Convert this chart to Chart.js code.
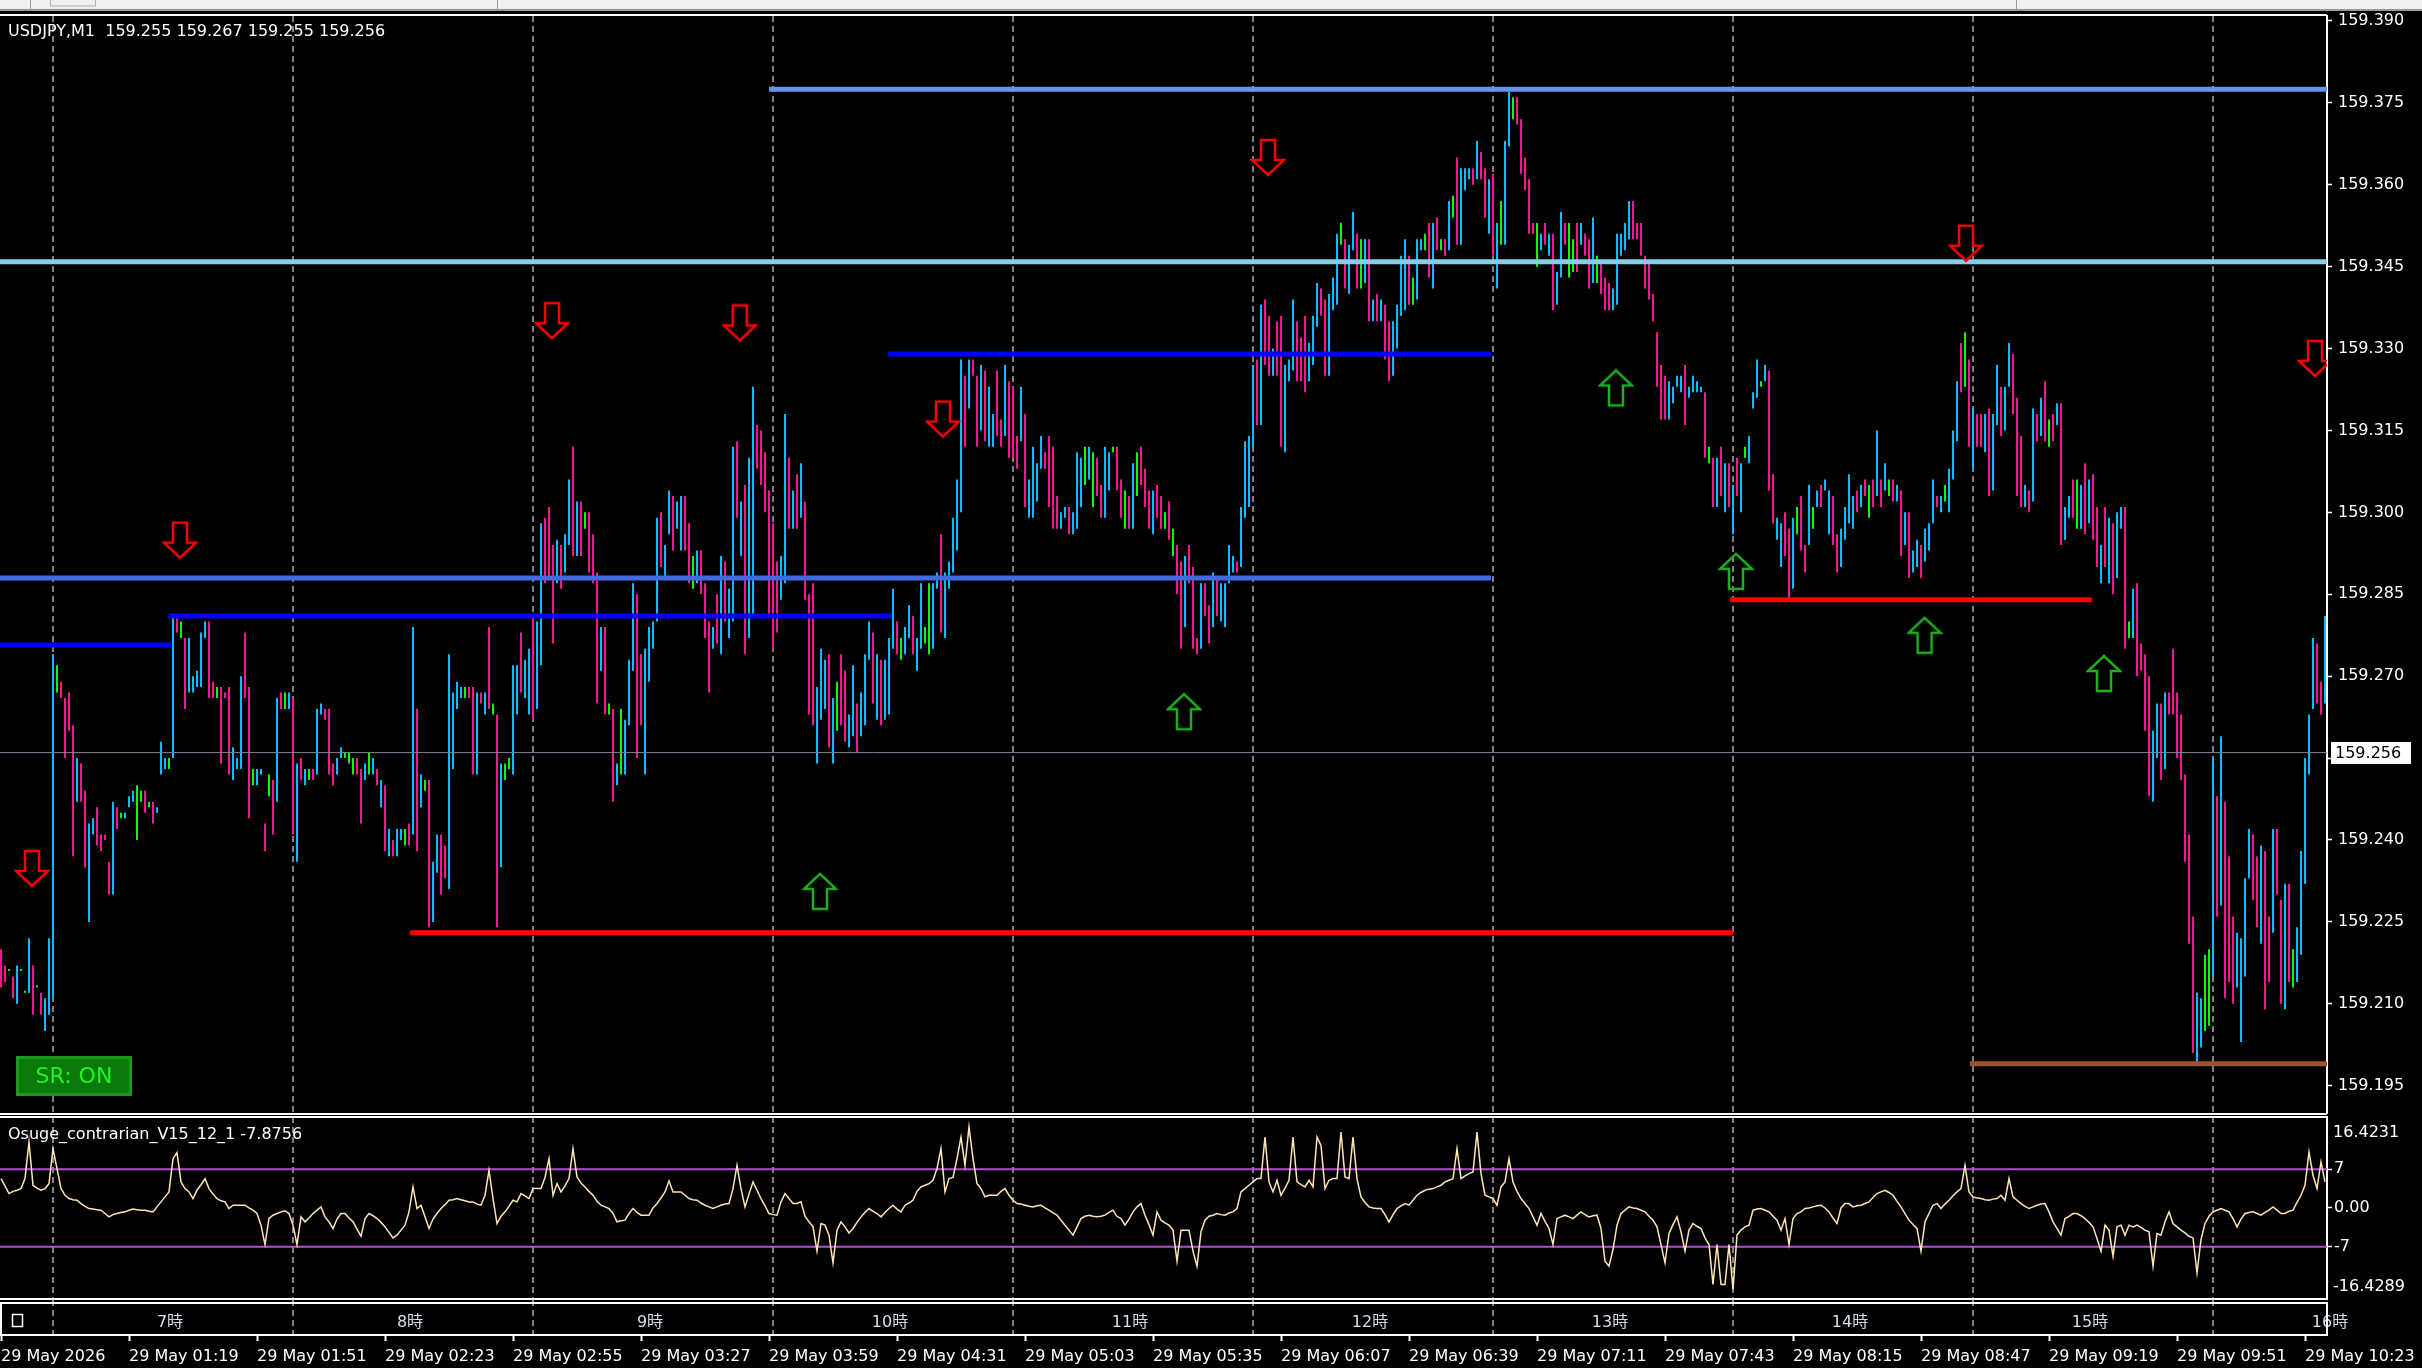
<!DOCTYPE html>
<html>
<head>
<meta charset="utf-8">
<title>USDJPY,M1</title>
<style>
    html, body { margin: 0; padding: 0; background: #000; }
    .wrap { position: relative; width: 2422px; height: 1368px; background: #000; overflow: hidden; }
    #mainChart { position: absolute; left: 0; top: 0; }
    #oscChart { position: absolute; left: 0; top: 1116px; }
</style>
<script src="https://cdn.jsdelivr.net/npm/chart.js"></script>
</head>
<body>
<div class="wrap">
    <canvas id="mainChart" width="2422" height="1116"></canvas>
    <canvas id="oscChart" width="2422" height="252"></canvas>
</div>
<script>
// one bar per minute, first bar = 29 May 00:47
// prices are in points (0.001) above 159.000
const PRICE_BASE = 159;

const barHigh = [
    220,217,216,215,217,216,212,222,217,213, 212,211,222,274,272,269,266,267,261,255,
    254,249,243,244,246,241,241,236,247,246, 245,245,248,249,250,249,249,247,247,246,
    258,255,255,281,281,280,277,277,270,271, 278,280,280,269,268,268,267,268,257,255,
    270,278,268,253,253,253,243,252,251,266, 267,267,267,266,254,255,253,253,253,264,
    265,264,264,254,255,257,256,256,255,255, 253,254,256,255,253,251,250,242,240,242,
    242,242,243,279,264,252,251,251,236,241, 241,239,274,267,269,268,268,268,268,267,
    267,267,279,265,263,254,254,255,272,272, 278,273,275,281,280,298,299,301,294,295,
    294,296,306,312,302,302,300,300,296,289, 279,279,265,264,254,264,262,273,287,285,
    274,275,279,280,299,300,294,304,303,302, 303,303,298,292,293,293,287,280,279,285,
    292,291,286,312,313,302,305,310,323,316, 315,311,304,298,291,292,318,310,304,307,
    309,302,285,287,268,275,273,274,266,269, 274,271,263,272,265,267,274,280,278,274,
    273,273,277,286,280,277,279,283,281,277, 287,279,287,287,289,296,289,291,299,306,
    328,325,328,328,325,327,326,323,318,326, 317,327,324,323,314,323,318,306,312,309,
    314,311,314,312,303,300,301,301,300,311, 310,312,312,311,310,305,312,311,312,312,
    306,304,303,309,311,312,308,304,304,305, 303,300,302,297,294,291,292,294,290,277,
    287,287,283,289,288,287,287,294,292,291, 301,313,314,327,328,338,339,336,330,335,
    336,327,328,339,335,332,336,331,336,342, 341,339,340,343,351,353,350,349,355,351,
    350,350,350,339,340,339,338,335,335,338, 347,350,347,343,350,350,351,353,353,354,
    350,350,357,358,365,363,363,363,363,368, 366,363,361,362,353,357,368,377,376,376,
    372,365,361,353,353,351,353,351,351,344, 355,353,353,350,353,353,351,350,354,347,
    346,343,342,341,351,351,353,357,357,353, 353,347,346,340,333,327,325,324,323,325,
    325,327,323,325,324,323,322,312,310,310, 312,309,309,305,310,309,312,314,322,328,
    324,327,326,307,299,298,300,297,299,301, 303,294,305,301,304,305,306,304,303,296,
    297,301,307,303,304,305,306,305,306,315, 306,309,306,306,305,304,300,300,293,295,
    294,297,298,306,303,303,305,308,315,324, 331,333,328,319,318,318,318,319,318,327,
    323,323,331,329,321,314,305,304,319,318, 321,324,317,318,320,320,301,303,306,306,
    305,309,306,307,301,294,301,299,298,300, 301,301,280,286,287,276,274,270,260,265,
    265,267,267,275,267,263,252,241,226,212, 211,219,220,255,248,259,247,237,226,223,
    222,233,242,241,237,239,238,226,242,242, 229,232,232,220,224,238,255,263,277,276,
    269,281
];

const barLow = [
    213,214,216,211,210,216,212,212,208,213, 208,205,208,211,267,266,255,260,237,247,
    247,235,225,241,239,238,240,230,230,242, 244,244,246,247,240,247,245,246,243,245,
    252,253,253,255,278,277,264,267,267,268, 268,277,266,266,266,254,266,252,251,253,
    253,266,244,250,250,252,238,248,241,247, 264,264,264,241,236,251,250,251,251,252,
    263,262,252,250,252,255,255,254,252,252, 243,251,252,252,250,246,238,237,237,237,
    240,239,239,241,238,246,249,224,225,234, 230,233,231,253,264,266,266,266,252,252,
    265,263,264,263,224,235,251,253,252,263, 267,266,263,262,264,272,287,288,276,287,
    286,289,294,292,292,292,297,289,287,265, 271,263,263,247,250,252,252,261,271,255,
    261,252,269,275,280,290,288,296,293,297, 293,293,287,286,287,285,277,267,275,276,
    274,280,277,280,299,292,274,277,281,308, 305,300,281,275,278,284,287,297,297,297,
    299,284,263,261,254,262,264,257,254,260, 261,258,257,259,256,259,261,273,265,262,
    261,262,263,275,274,273,274,277,274,271, 275,276,274,275,286,278,277,286,289,293,
    300,312,319,325,312,315,313,312,312,314, 312,314,310,310,308,313,301,299,299,302,
    308,308,301,297,297,297,299,296,296,297, 301,305,306,301,303,299,299,304,311,304,
    299,297,297,297,303,305,301,297,296,299, 297,297,295,292,285,275,279,287,275,274,
    275,281,276,279,281,280,279,287,289,289, 290,299,301,312,316,316,327,325,325,325,
    312,311,324,326,324,324,322,324,327,334, 336,325,325,337,338,349,341,340,348,341,
    341,342,335,335,335,335,328,324,325,330, 336,337,338,338,339,348,348,343,341,348,
    348,347,348,354,349,349,359,361,360,361, 361,354,351,347,341,349,349,367,372,371,
    362,359,351,351,345,348,349,347,337,338, 343,349,343,344,344,349,347,341,342,342,
    340,337,337,337,338,347,348,350,350,350, 347,341,339,335,323,317,317,317,320,323,
    322,316,321,322,322,322,310,309,301,301, 303,300,301,296,303,300,310,309,319,321,
    323,324,304,298,295,290,292,284,286,296, 293,289,294,297,301,301,304,296,294,289,
    290,295,298,297,300,301,303,299,301,303, 301,304,303,302,302,292,294,288,289,290,
    288,291,293,298,301,300,302,300,306,313, 322,323,312,308,312,312,311,303,304,316,
    314,315,323,318,303,301,301,300,302,313, 314,313,312,313,316,294,295,299,299,297,
    297,296,298,295,290,287,290,287,285,288, 297,275,277,277,270,271,260,248,247,255,
    251,253,263,263,255,251,236,221,201,199, 202,205,206,215,226,228,211,214,210,213,
    203,215,233,229,224,221,209,214,223,230, 210,209,214,213,214,219,232,252,264,265,
    263,265
];

// c = up bar, p = down bar, g = unchanged bar
const barKind = [
    'ppgpcggcpg','pcccgppppc','ppccppppcp','gcccggpgpc','ccgcpgpccc',
    'ccppgpppcc','cppgccpgpc','pgcpcpcgpc','cpppccgggp','pcgcpcpcpc',
    'cgpcpcgpcc','ppccccgppc','pcpgpcggcc','pccpccpppc','pccpcpgppp',
    'cpgpcgcccp','pccccpccpc','cppgcpppcp','cpccpcpccp','pppppccpcp',
    'cpppcccpcg','ppccpcccpc','pcccpgccpc','cggccpcccc','cpcppcpccp',
    'pcpppcpccc','cppppccpcc','cgcgppccgp','pgpcgpppcp','pgpgppcppp',
    'cppcpccccp','ccccpcppcp','pcccpppccc','ppcccgpccp','gcpcpcppcc',
    'ccpgccgpcp','gpcgpcccpc','ppcpcgccgp','ppppgcpcpc','cpggpcppcg',
    'pppcccccpp','pppppppccc','cpccccpgpc','pcpcpcgccc','gcppccppcg',
    'ppcgcpccpp','ccccpcpgpc','pcgpcpcpcc','pcccpcgccc','pgpcppcpcc',
    'pccpppcpcp','cpgpcpccpg','cpcppcpcpc','cpgcppppcc','pcpppppppc',
    'cggcpcpppc','cccppcppcp','pcpgcccccp','pc'
].join('').split('');

// Osuge_contrarian oscillator, one value per bar
const oscValues = [
    5.3,4,2.6,3,3.2,3.5,5.3,11.9,4.1,3.6, 3.2,3.5,4.4,10.7,7.1,3.5,2.3,1.7,1.5,1.4,
    0.8,0.3,-0.1,-0.2,-0.3,-0.4,-1,-1.6,-1.2,-1, -0.8,-0.7,-0.4,-0.2,-0.3,-0.4,-0.4,-0.6,-0.7,0.2,
    1.1,2,2.9,8.9,10,4.7,3.5,2.9,1.7,3.2, 4.2,5.3,3.5,2.5,1.7,1.3,1.1,-0.1,0.5,0.5,
    0.5,0.5,0,-0.4,-1,-3.1,-6.6,-1.9,-1.3,-1, -0.7,-0.5,-1,-3.1,-6.6,-1.6,-2.5,-1.8,-1,-0.4,
    0.2,-1.6,-2.5,-3.7,-2,-1,-1,-1.8,-2.5,-3.8, -5.1,-1.9,-1,-1.4,-1.9,-2.6,-3.4,-4.4,-5.4,-4.9,
    -4,-3.1,-0.7,3.8,-0.1,0.5,-1.6,-3.7,-2,-1, -0.1,0.6,1.4,1.5,1.7,1.5,1.3,1.1,1.1,0.7,
    0.5,2.3,6.8,1.7,-2.8,-1.5,-0.7,0.3,1.4,1.1, 2.6,2.2,1.7,3.5,3.5,3.5,5.5,8.9,2.3,4.4,
    2.9,4,5.3,10.7,5.6,4.5,3.8,3,2.3,1.2, 0.5,0.2,-0.1,-1,-2.5,-2.3,-2.2,-1,-0.1,-0.8,
    -1.3,-1.3,-1.3,0,0.8,1.8,2.9,4.9,2.9,2.9, 2.9,2.3,1.7,1.5,1.4,0.9,0.5,0.2,-0.1,0.2,
    0.5,0.7,0.8,3.5,7.7,3.5,0.2,2.5,4.7,3.2, 1.7,0.4,-1,-1.2,-1.3,1.1,2.6,1.7,0.8,0.8,
    1.1,-1.5,-2.5,-3.4,-7.8,-2.8,-3.1,-4.9,-9.9,-4, -2.5,-3.4,-4.5,-3.7,-2.6,-1.6,-0.8,-0.1,-0.6,-1,
    -1.6,-0.8,-0.1,0.5,-0.2,-0.7,0.5,0.9,1.4,3, 3.8,4.1,4.4,5,7.1,10.7,2.9,5.3,5.5,8.9,
    12.8,7.7,14.6,8.9,4.4,3.5,2,2.3,2.3,2.3, 3,3.5,2.3,1.4,0.8,0.7,0.5,0.3,0.2,0.4,
    0.5,0,-0.4,-0.9,-1.3,-2.2,-3.1,-4,-4.9,-3.4, -1.9,-1.5,-1.3,-1.5,-1.6,-1.5,-1.3,-0.8,-0.4,-1.5,
    -1.9,-3.1,-2,-0.7,0.2,0.8,-1.3,-3,-4.9,-0.7, -2.2,-2.7,-3.1,-4,-9.6,-4,-4,-4,-7.8,-10.5,
    -4.3,-2.2,-1.5,-1.3,-1,-1.2,-1.3,-0.9,-0.7,-0.1, 2.9,3.5,4.1,4.7,5.3,5.3,12.8,4.7,2.9,5,
    2.3,3.6,5,12.8,4.7,4.2,3.8,5,3.8,12.8, 11.3,3.5,5,5.3,5.3,13.7,5.6,5.3,12.8,5.3,
    2,1,0.2,0,-0.1,-0.1,-1.2,-2.5,-1.2,-0.1, 0.4,0.8,0.5,1.4,2.3,2.8,3.2,3.4,3.5,3.8,
    4.1,4.7,5,5.3,10.7,5.3,5.8,6.2,6.5,13.7, 6.2,2.3,2,1.7,0.5,3.8,4.7,8.9,4.7,3,
    1.7,0.8,-0.1,-1.6,-3.1,-1,-2.4,-3.7,-6.6,-1.9, -1.6,-1.3,-1.6,-1.9,-1.3,-0.7,-1.2,-1.6,-1.4,-1.3,
    -3.7,-9.6,-10.5,-7.5,-3.1,-1,-0.4,0.2,0,-0.1, -0.4,-0.7,-1.5,-2.2,-3.4,-6.6,-9.9,-4.6,-3,-1.6,
    -4.3,-7.8,-4,-2.8,-3.3,-3.7,-5.4,-6.6,-13.8,-6.6, -13.8,-13.8,-6.6,-14.7,-4.9,-4,-3.4,-3.1,-0.4,-0.2,
    -0.1,-0.4,-0.7,-1.5,-2.2,-4,-1.9,-6.6,-1.9,-1, -0.7,-0.1,0,0.2,0.4,0.5,0,-0.7,-1.8,-2.8,
    0,0.8,0.8,0.2,0.4,0.5,0.8,1.1,1.9,2.6, 2.9,3.2,2.8,2.3,1.2,0.2,-1,-2.2,-3,-3.7,
    -7.8,-2.5,-1,0.5,0.8,-0.1,0.7,1.4,2.2,2.9, 3.5,7.7,2.9,2,1.8,1.7,1.5,1.4,1.6,1.7,
    2.3,1.4,5.3,2,1.4,0.8,0.3,-0.1,0.2,0.5, 0.7,0.8,-0.7,-2.5,-3.7,-4.9,-1.9,-1.5,-1,-1,
    -1.4,-1.9,-2.6,-3.4,-5.5,-7.8,-3.1,-4,-8.7,-3.4, -3.1,-4.9,-3.1,-3.4,-3.1,-3.5,-4,-4.3,-10.5,-4.6,
    -4.9,-2.5,-0.7,-2.8,-3.4,-4,-4.5,-5.1,-5.4,-11.7, -5.7,-2.8,-1.5,-0.7,-0.4,-0.1,-0.4,-0.7,-1.9,-3.4,
    -2,-1,-0.8,-0.7,-1,-1.3,-0.8,-0.4,0.2,-0.4, -1,-1,-0.6,-0.4,1,2.3,4.1,10.1,5.9,3.5,
    8.3,4.7
];

// support / resistance lines: price, first bar, last bar
const levelPrice = [159.3775, 159.3459, 159.329, 159.288, 159.281, 159.2757, 159.223, 159.284, 159.199];
const levelFrom  = [192, -1, 221.75, -1, 41.9, -1, 102.2, 432.3, 492.2];
const levelTo    = [600, 600, 372.5, 372.5, 222.75, 42.5, 433, 522.7, 600];

// signal arrows: bar position and price (points above 159.000)
const sellBar   = [7.75, 44.75, 137.75, 184.7, 235.5, 316.75, 491.25, 578.5];
const sellPrice = [234.7, 294.8, 335, 334.6, 317, 364.9, 349.2, 328.1];
const buyBar    = [204.75, 295.75, 403.75, 433.75, 480.9, 525.75];
const buyPrice  = [230.5, 263.4, 322.7, 289.1, 277.4, 270.4];

const bidPrice = 159.256;
const priceTicks = [159.195, 159.210, 159.225, 159.240, 159.255, 159.270, 159.285, 159.300,
                    159.315, 159.330, 159.345, 159.360, 159.375, 159.390];
const priceRange = [159.190, 159.3909];
const oscTicks = [-7, 0, 7];
const oscLevels = [7, -7];
const oscRange = [-16.4289, 16.4231];

const hourTicks = [13, 73, 133, 193, 253, 313, 373, 433, 493, 553];
const hourLabels = ['7時', '8時', '9時', '10時', '11時', '12時', '13時', '14時', '15時', '16時'];
const timeTicks = [0, 32, 64, 96, 128, 160, 192, 224, 256, 288, 320, 352, 384, 416, 448, 480, 512, 544, 576];
const timeLabels = ['29 May 2026', '29 May 01:19', '29 May 01:51', '29 May 02:23', '29 May 02:55',
    '29 May 03:27', '29 May 03:59', '29 May 04:31', '29 May 05:03', '29 May 05:35', '29 May 06:07',
    '29 May 06:39', '29 May 07:11', '29 May 07:43', '29 May 08:15', '29 May 08:47', '29 May 09:19',
    '29 May 09:51', '29 May 10:23'];

const titleText = 'USDJPY,M1  159.255 159.267 159.255 159.256';
const oscTitle = 'Osuge_contrarian_V15_12_1 -7.8756';

// ---- styles ----
const X_MIN = -0.25, X_MAX = 581.5;
const FONT = '"DejaVu Sans", "Noto Sans CJK JP", sans-serif';
const kindColor = { c: '#00BFFF', p: '#FF1493', g: '#00FF00' };
const levelColor = ['#6495ED', '#87CEEB', '#0000FF', '#4169E1', '#0000FF', '#0000FF', '#FF0000', '#FF0000', '#A0522D'];

Chart.defaults.font.family = FONT;
Chart.defaults.font.size = 16;
Chart.defaults.color = '#ffffff';

const pts = v => PRICE_BASE + v / 1000;

// keep axis label overhang from shrinking the plot areas
const noPad = s => { s.paddingTop = 0; s.paddingBottom = 0; s.paddingLeft = 0; s.paddingRight = 0; };

function arrowImage(color, up) {
    const c = document.createElement('canvas');
    c.width = 36; c.height = 40;
    const g = c.getContext('2d');
    const outline = [[11, 2], [25, 2], [25, 22], [34, 22], [18, 37], [2, 22], [11, 22]];
    g.beginPath();
    outline.forEach(([px, py], i) => {
        const yy = up ? 39 - py : py;
        if (i) g.lineTo(px, yy); else g.moveTo(px, yy);
    });
    g.closePath();
    g.lineWidth = 2.5;
    g.strokeStyle = color;
    g.stroke();
    return c;
}

const downArrow = arrowImage('#FF0000', false);
const upArrow = arrowImage('#1FAE1F', true);

// ---- main price pane ----
const mainDecor = {
    id: 'mainDecor',
    beforeDraw(chart) {
        const ctx = chart.ctx;
        ctx.save();
        ctx.fillStyle = '#000';
        ctx.fillRect(0, 0, chart.width, chart.height);
        // strip of the terminal window above the chart
        ctx.fillStyle = '#f0f0f0';
        ctx.fillRect(0, 0, chart.width, 9);
        ctx.fillStyle = '#9a9a9a';
        ctx.fillRect(0, 9, chart.width, 2);
        ctx.fillRect(30, 0, 1, 9);
        ctx.fillRect(497, 0, 1, 9);
        ctx.fillRect(2016, 0, 1, 9);
        ctx.strokeStyle = '#b0b0b0';
        ctx.strokeRect(50.5, -1, 45, 7);
        ctx.restore();
    },
    afterDraw(chart) {
        const { ctx, chartArea: a, scales: { y } } = chart;
        ctx.save();
        ctx.strokeStyle = '#ffffff';
        ctx.lineWidth = 2;
        ctx.beginPath();
        ctx.moveTo(0, a.top - 1); ctx.lineTo(a.right, a.top - 1);
        ctx.moveTo(0, a.bottom + 1); ctx.lineTo(a.right, a.bottom + 1);
        ctx.stroke();

        ctx.font = '16px ' + FONT;
        ctx.textBaseline = 'middle';
        ctx.textAlign = 'left';
        ctx.fillStyle = '#ffffff';
        ctx.fillText(titleText, 8, 32);

        // current bid label on the price scale
        const by = Math.round(y.getPixelForValue(bidPrice));
        ctx.fillStyle = '#ffffff';
        ctx.fillRect(a.right + 4, by - 11, 80, 22);
        ctx.fillStyle = '#000000';
        ctx.fillText(bidPrice.toFixed(3), a.right + 8, by + 1);

        // SR: ON button
        ctx.fillStyle = '#0a7a0a';
        ctx.fillRect(16, 1056, 116, 40);
        ctx.strokeStyle = '#1d9a1d';
        ctx.lineWidth = 3;
        ctx.strokeRect(17.5, 1057.5, 113, 37);
        ctx.fillStyle = '#22f022';
        ctx.font = '22px ' + FONT;
        ctx.textAlign = 'center';
        ctx.fillText('SR: ON', 74, 1077);
        ctx.restore();
    }
};

const barData = barHigh.map((h, i) => ({ x: i, y: [pts(barLow[i]), pts(h)] }));

const levelSets = levelPrice.map((p, i) => ({
    type: 'line',
    data: [{ x: levelFrom[i], y: p }, { x: levelTo[i], y: p }],
    borderColor: levelColor[i],
    borderWidth: 5,
    pointRadius: 0,
    clip: 0,
    order: 2
}));

new Chart(document.getElementById('mainChart'), {
    type: 'bar',
    data: {
        datasets: [
            {
                type: 'bar',
                data: barData,
                backgroundColor: barKind.map(k => kindColor[k]),
                borderWidth: 0,
                barThickness: 2,
                minBarLength: 2,
                inflateAmount: 0,
                order: 10
            },
            ...levelSets,
            {
                type: 'line',
                data: [{ x: -1, y: bidPrice }, { x: 600, y: bidPrice }],
                borderColor: '#7d8794',
                borderWidth: 1,
                pointRadius: 0,
                clip: 0,
                order: 1
            },
            {
                type: 'line',
                data: sellBar.map((b, i) => ({ x: b, y: pts(sellPrice[i]) })),
                showLine: false,
                pointStyle: downArrow,
                pointRadius: 10,
                clip: 0,
                order: 0
            },
            {
                type: 'line',
                data: buyBar.map((b, i) => ({ x: b, y: pts(buyPrice[i]) })),
                showLine: false,
                pointStyle: upArrow,
                pointRadius: 10,
                clip: 0,
                order: 0
            }
        ]
    },
    options: {
        responsive: false,
        devicePixelRatio: 1,
        animation: false,
        events: [],
        layout: { autoPadding: false, padding: { top: 16, bottom: 3, left: 0, right: 0 } },
        plugins: { legend: { display: false }, tooltip: { enabled: false } },
        scales: {
            x: {
                type: 'linear',
                min: X_MIN,
                max: X_MAX,
                offset: false,
                afterBuildTicks: s => { s.ticks = hourTicks.map(v => ({ value: v })); },
                afterFit: s => { s.height = 0; noPad(s); },
                ticks: { display: false },
                grid: { offset: false, color: '#808080', lineWidth: 2, drawTicks: false },
                border: { display: false, dash: [6, 4] }
            },
            y: {
                type: 'linear',
                position: 'right',
                min: priceRange[0],
                max: priceRange[1],
                beginAtZero: false,
                afterBuildTicks: s => { s.ticks = priceTicks.map(v => ({ value: v })); },
                afterFit: s => { s.width = 2422 - 2327; noPad(s); },
                ticks: {
                    autoSkip: false,
                    padding: 6,
                    color: '#ffffff',
                    font: { size: 16 },
                    callback: v => v.toFixed(3)
                },
                grid: { drawOnChartArea: false, drawTicks: true, tickLength: 5, tickColor: '#ffffff', tickWidth: 1.5 },
                border: { display: true, color: '#ffffff', width: 2 }
            }
        }
    },
    plugins: [mainDecor]
});

// ---- oscillator pane with time axis ----
const oscDecor = {
    id: 'oscDecor',
    beforeDraw(chart) {
        const ctx = chart.ctx;
        ctx.save();
        ctx.fillStyle = '#000';
        ctx.fillRect(0, 0, chart.width, chart.height);
        ctx.restore();
    },
    afterDraw(chart) {
        const { ctx, chartArea: a } = chart;
        ctx.save();
        ctx.strokeStyle = '#ffffff';
        ctx.lineWidth = 2;
        ctx.beginPath();
        ctx.moveTo(0, a.top); ctx.lineTo(a.right, a.top);
        ctx.stroke();
        // time strip frame
        ctx.strokeRect(1, a.bottom + 4, a.right - 1, 32);

        ctx.font = '16px ' + FONT;
        ctx.textBaseline = 'middle';
        ctx.textAlign = 'left';
        ctx.fillStyle = '#ffffff';
        ctx.fillText(oscTitle, 8, a.top + 18);
        ctx.fillText(oscRange[1].toFixed(4), a.right + 6, a.top + 16);
        ctx.fillText(oscRange[0].toFixed(4), a.right + 6, a.bottom - 12);

        ctx.lineWidth = 1.5;
        ctx.strokeRect(12.5, a.bottom + 15.5, 10, 12);
        ctx.restore();
    }
};

new Chart(document.getElementById('oscChart'), {
    type: 'line',
    data: {
        datasets: [
            {
                data: oscValues.map((v, i) => ({ x: i, y: v })),
                borderColor: '#FFE4B5',
                borderWidth: 1.5,
                pointRadius: 0,
                tension: 0,
                clip: 0,
                order: 0
            },
            ...oscLevels.map(v => ({
                data: [{ x: -1, y: v }, { x: 600, y: v }],
                borderColor: '#B450D0',
                borderWidth: 2,
                pointRadius: 0,
                clip: 0,
                order: 1
            }))
        ]
    },
    options: {
        responsive: false,
        devicePixelRatio: 1,
        animation: false,
        events: [],
        layout: { autoPadding: false, padding: { top: 1, bottom: 0, left: 0, right: 0 } },
        plugins: { legend: { display: false }, tooltip: { enabled: false } },
        scales: {
            x: {
                type: 'linear',
                position: 'bottom',
                weight: 0,
                min: X_MIN,
                max: X_MAX,
                offset: false,
                afterBuildTicks: s => { s.ticks = hourTicks.map(v => ({ value: v })); },
                afterFit: s => { s.height = 36; noPad(s); },
                ticks: {
                    autoSkip: false,
                    maxRotation: 0,
                    labelOffset: 117,
                    padding: -22,
                    color: '#d4deec',
                    font: { size: 16 },
                    callback: (v, i) => hourLabels[i]
                },
                grid: {
                    color: '#808080', lineWidth: 2,
                    drawTicks: true, tickLength: 36,
                    tickColor: '#808080', tickWidth: 2, tickBorderDash: [6, 4]
                },
                border: { display: true, color: '#ffffff', width: 2, dash: [6, 4] }
            },
            xd: {
                type: 'linear',
                position: 'bottom',
                weight: 1,
                min: X_MIN,
                max: X_MAX,
                offset: false,
                afterBuildTicks: s => { s.ticks = timeTicks.map(v => ({ value: v })); },
                afterFit: s => { s.height = 33; noPad(s); },
                ticks: {
                    autoSkip: false,
                    maxRotation: 0,
                    align: 'start',
                    padding: 6,
                    color: '#ffffff',
                    font: { size: 16 },
                    callback: (v, i) => timeLabels[i]
                },
                grid: { drawOnChartArea: false, drawTicks: true, tickLength: 6, tickColor: '#ffffff', tickWidth: 2 },
                border: { display: false }
            },
            y: {
                type: 'linear',
                position: 'right',
                min: oscRange[0],
                max: oscRange[1],
                afterBuildTicks: s => { s.ticks = oscTicks.map(v => ({ value: v })); },
                afterFit: s => { s.width = 2422 - 2327; noPad(s); },
                ticks: {
                    autoSkip: false,
                    padding: 2,
                    color: '#ffffff',
                    font: { size: 16 },
                    callback: v => (v === 0 ? '0.00' : String(v))
                },
                grid: { drawOnChartArea: false, drawTicks: true, tickLength: 5, tickColor: '#ffffff', tickWidth: 1.5 },
                border: { display: true, color: '#ffffff', width: 2 }
            }
        }
    },
    plugins: [oscDecor]
});
</script>
</body>
</html>
